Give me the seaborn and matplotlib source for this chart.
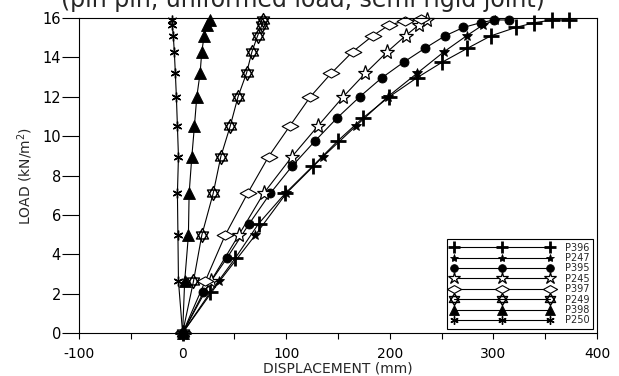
import numpy as np
import pandas as pd
import matplotlib
matplotlib.use("Agg")
import matplotlib.pyplot as plt
from matplotlib.path import Path
import seaborn as sns

# Load steps (kN/m2) at which displacements were recorded
loads_a = [0, 2.63, 4.96, 7.09, 8.96, 10.5, 12.0, 13.2, 14.28, 15.1, 15.65, 15.9]
loads_b = [0, 2.06, 3.8, 5.55, 7.09, 8.47, 9.77, 10.92, 12.0, 12.95, 13.76,
           14.46, 15.09, 15.52, 15.76, 15.9, 15.9]
loads_c = [0, 2.63, 4.96, 7.09, 8.96, 10.5, 12.0, 13.2, 14.28, 15.1, 15.65, 15.85, 15.93]

# Displacements (mm) for each member
p396 = [0, 26.6, 50.8, 73.3, 99, 125.5, 150, 174, 199.5, 225.8, 250.7, 274.9,
        297.4, 321.6, 339.3, 357, 373]
p247 = [0, 35.6, 70, 100, 135.6, 167, 198, 226.5, 252.2, 274.2, 290, 302]
p395 = [0, 20.1, 42.7, 64.3, 84.6, 105.6, 128.1, 149.1, 171, 192, 213.5, 233.8,
        253.2, 271, 287.7, 300.6, 315]
p245 = [0, 27.2, 54, 78.2, 105.6, 130.4, 155, 176.5, 197.5, 215.2, 228, 236]
p397 = [0, 21.8, 41, 62.7, 83, 103.3, 123.3, 143.6, 164, 183.6, 199.5, 215, 230]
p249 = [0, 10.5, 18.5, 29.5, 36.9, 45.9, 53.5, 61.7, 66.9, 72.4, 76.6, 78]
p398 = [0, 2, 5.6, 6.3, 8.9, 11.4, 13.7, 16.9, 18.5, 20.8, 24, 26]
p250 = [0, -4, -4.5, -5, -4, -5, -6, -7, -8, -9, -10, -10]

series_names = ["P396", "P247", "P395", "P245", "P397", "P249", "P398", "P250"]
series_disp = [p396, p247, p395, p245, p397, p249, p398, p250]
series_load = [loads_b, loads_a, loads_b, loads_a, loads_c, loads_a, loads_a, loads_a]

frames = []
for name, d, l in zip(series_names, series_disp, series_load):
    frames.append(pd.DataFrame({"member": name, "disp": d, "load": l,
                                "step": range(len(d))}))
df = pd.concat(frames, ignore_index=True)

# Marker shapes
diamond = Path([(-1, 0), (0, 0.55), (1, 0), (0, -0.55), (-1, 0)],
               [Path.MOVETO, Path.LINETO, Path.LINETO, Path.LINETO, Path.CLOSEPOLY])
tri_up = Path([(0, 1), (0.866, -0.5), (-0.866, -0.5), (0, 1)],
              [Path.MOVETO, Path.LINETO, Path.LINETO, Path.CLOSEPOLY])
tri_dn = Path([(0, -1), (0.866, 0.5), (-0.866, 0.5), (0, -1)],
              [Path.MOVETO, Path.LINETO, Path.LINETO, Path.CLOSEPOLY])
hexagram = Path.make_compound_path(tri_up, tri_dn)

styles = {
    "P396": dict(marker="+", ms=11, mew=2.0, mfc="black"),
    "P247": dict(marker="*", ms=7, mew=0.6, mfc="black"),
    "P395": dict(marker="o", ms=6.5, mew=0.6, mfc="black"),
    "P245": dict(marker="*", ms=11, mew=0.9, mfc="white"),
    "P397": dict(marker=diamond, ms=12, mew=0.8, mfc="white"),
    "P249": dict(marker=hexagram, ms=10, mew=1.0, mfc="white"),
    "P398": dict(marker="^", ms=9, mew=0.6, mfc="black"),
    "P250": dict(marker=(6, 2, 0), ms=7, mew=1.0, mfc="black"),
}

sns.set_style("ticks")
plt.rcParams["font.family"] = ["DejaVu Sans"]
plt.rcParams["axes.unicode_minus"] = False

fig = plt.figure(figsize=(6.19, 3.76), dpi=100)
ax = fig.add_axes([79 / 619, 1 - 333 / 376, 518 / 619, 315 / 376])

for name in series_names:
    sub = df[df["member"] == name]
    sns.lineplot(data=sub, x="disp", y="load", ax=ax, estimator=None, sort=False,
                 color="black", lw=0.8, mec="black", label=name, clip_on=False,
                 **styles[name])

ax.set_xlim(-100, 400)
ax.set_ylim(0, 16)
ax.set_xticks(np.arange(-100, 401, 100))
ax.set_xticks(np.arange(-50, 400, 100), minor=True)
ax.set_yticks(np.arange(0, 17, 2))

for s in ax.spines.values():
    s.set_visible(True)
    s.set_color("black")
    s.set_linewidth(0.8)

ax.tick_params(axis="x", which="both", direction="out", length=4, width=0.8,
               pad=6, labelsize=10, colors="black")
ax.tick_params(axis="y", direction="out", length=12, width=0.8, pad=1,
               labelsize=10.5, colors="black")

ax.set_xlabel("DISPLACEMENT (mm)", fontsize=10)
ax.xaxis.set_label_coords(0.5, -0.09)
ax.set_ylabel("LOAD (kN/m$^2$)", fontsize=10, labelpad=5)

fig.text(0.49, 1 - 7 / 376, "(pin pin, uniformed load, semi rigid joint)",
         ha="center", va="baseline", fontsize=17)

leg = ax.legend(loc="lower right", bbox_to_anchor=(0.993, 0.012), borderaxespad=0,
                numpoints=3, handlelength=10.5, fontsize=7, labelspacing=0.04,
                borderpad=0.4, handletextpad=1.2, markerscale=0.85, frameon=True,
                fancybox=False, framealpha=1, edgecolor="black")
leg.get_frame().set_linewidth(0.8)

fig.savefig("out.png", dpi=100)
